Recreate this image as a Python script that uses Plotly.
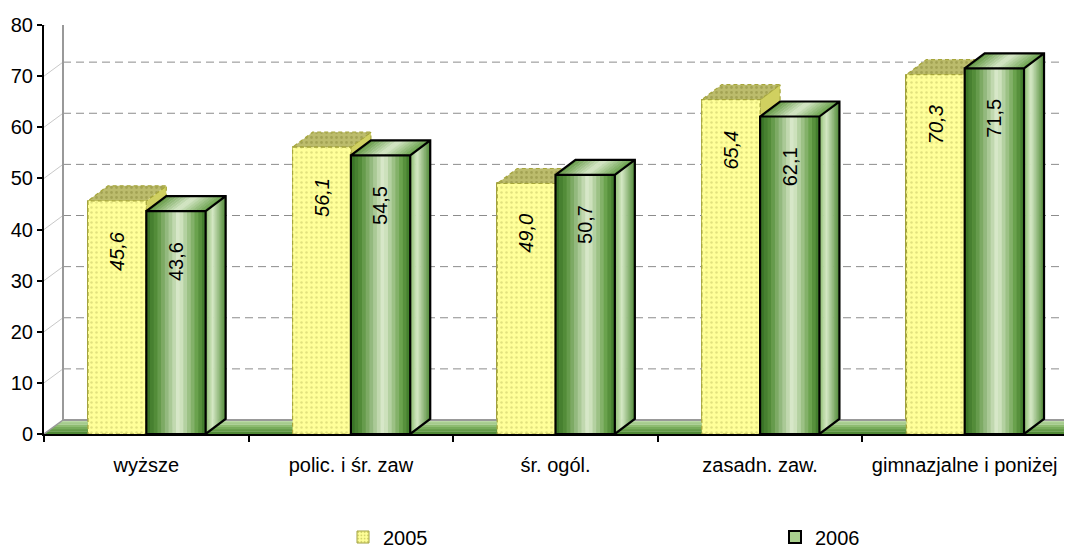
import plotly.graph_objects as go

# ---------------- data ----------------
categories = ["wyższe", "polic. i śr. zaw", "śr. ogól.", "zasadn. zaw.", "gimnazjalne i poniżej"]
series_names = ["2005", "2006"]
values_2005 = [45.6, 56.1, 49.0, 65.4, 70.3]
values_2006 = [43.6, 54.5, 50.7, 62.1, 71.5]
y_ticks = [0, 10, 20, 30, 40, 50, 60, 70, 80]

# ---------------- geometry / style ----------------
# the page body adds an 8px offset, so the figure is sized/positioned to compensate
OFF = 8
W, H = 1072 - OFF, 551 - OFF
ML, MT = 44 - OFF, 25 - OFF
PLOT_W, PLOT_H = 1023, 409
MR = W - ML - PLOT_W
MB = H - MT - PLOT_H
NCAT = len(categories)
YMAX = 80
PX_X = PLOT_W / NCAT
PX_Y = PLOT_H / YMAX
BAR_DX, BAR_DY = 20 / PX_X, 15 / PX_Y
WALL_DX, WALL_DY = 19 / PX_X, 14 / PX_Y
W05, W06 = 0.285, 0.29
EPS = 0.6 / PX_X
FONT = "Liberation Sans, Arial, sans-serif"
FS = 20


def lerp_color(stops, t):
    for (t0, c0), (t1, c1) in zip(stops[:-1], stops[1:]):
        if t0 <= t <= t1:
            f = 0 if t1 == t0 else (t - t0) / (t1 - t0)
            c = [round(a + (b - a) * f) for a, b in zip(c0, c1)]
            return f"rgb({c[0]},{c[1]},{c[2]})"
    c = stops[-1][1]
    return f"rgb({c[0]},{c[1]},{c[2]})"


FRONT_STOPS = [(0, (52, 110, 34)), (0.18, (88, 145, 60)), (0.55, (222, 236, 208)),
               (0.85, (104, 160, 74)), (1, (58, 118, 38))]
TOP_STOPS = [(0, (95, 150, 65)), (0.5, (215, 232, 200)), (1, (100, 158, 70))]
SIDE_STOPS = [(0, (140, 188, 110)), (0.35, (212, 232, 196)), (1, (78, 136, 52))]
FLOOR_STOPS = [(0, (70, 130, 45)), (0.5, (130, 180, 100)), (1, (200, 226, 180))]


def poly_xy(polys):
    xs, ys = [], []
    for p in polys:
        for x, y in p:
            xs.append(x)
            ys.append(y)
        xs.append(p[0][0])
        ys.append(p[0][1])
        xs.append(None)
        ys.append(None)
    return xs, ys


def fill_trace(polys, color, line=None, pattern=None):
    xs, ys = poly_xy(polys)
    kw = dict(x=xs, y=ys, mode="lines", fill="toself", fillcolor=color,
              line=line or dict(width=0, color=color), hoverinfo="skip",
              showlegend=False, cliponaxis=False)
    if pattern:
        kw["fillpattern"] = pattern
    return go.Scatter(**kw)


def line_trace(xs, ys, color, width=1, dash="solid"):
    return go.Scatter(x=xs, y=ys, mode="lines", line=dict(color=color, width=width, dash=dash),
                      hoverinfo="skip", showlegend=False, cliponaxis=False)


fig = go.Figure()
xpos = list(range(NCAT))

# legend proxies (hidden under the front faces)
fig.add_trace(go.Bar(x=xpos, y=values_2005, offset=-W05, width=W05, name=series_names[0], legend="legend",
                     marker=dict(color="#ffff99",
                                 pattern=dict(shape=".", fgcolor="#a8a840", bgcolor="#ffff99", size=4, solidity=0.3),
                                 line=dict(color="#a0a040", width=1)), hoverinfo="skip"))
fig.add_trace(go.Bar(x=xpos, y=values_2006, offset=0, width=W06, name=series_names[1], legend="legend2",
                     marker=dict(color="#a9d08e", line=dict(color="black", width=2)), hoverinfo="skip"))

# floor (gradient strips)
XL, XR = -0.5, NCAT - 0.5 + 0.3
NF = 6
for k in range(NF):
    t0, t1 = k / NF, (k + 1) / NF
    t1e = min(1, t1 + 0.02)
    poly = [(XL + WALL_DX * t0, WALL_DY * t0), (XR, WALL_DY * t0),
            (XR, WALL_DY * t1e), (XL + WALL_DX * t1e, WALL_DY * t1e)]
    fig.add_trace(fill_trace([poly], lerp_color(FLOOR_STOPS, (t0 + t1) / 2)))

# back wall grid lines
gx, gy = [], []
dxs, dys = [], []
for v in y_ticks[1:-1]:
    gx += [XL + WALL_DX, XR + 0.2, None]
    gy += [v + WALL_DY, v + WALL_DY, None]
    dxs += [XL, XL + WALL_DX, None]
    dys += [v, v + WALL_DY, None]
fig.add_trace(line_trace(dxs, dys, "#c8c8c8", 1))
fig.add_trace(line_trace(gx, gy, "#8c8c8c", 1, "8px,5px"))
# wall frame
fig.add_trace(line_trace([XL, XL + WALL_DX, XL + WALL_DX, XR + 0.2], [YMAX, YMAX + WALL_DY, WALL_DY, WALL_DY],
                         "#999999", 2))
fig.add_trace(line_trace([XL + WALL_DX, XR + 0.2], [YMAX + WALL_DY, YMAX + WALL_DY], "#999999", 2))
fig.add_trace(line_trace([XL, XL + WALL_DX], [0, WALL_DY], "#999999", 1.5))

# ---- 2005 bars ----
side05 = [[(i, 0), (i, v), (i + BAR_DX, v + BAR_DY), (i + BAR_DX, BAR_DY)] for i, v in zip(xpos, values_2005)]
top05 = [[(i - W05, v), (i, v), (i + BAR_DX, v + BAR_DY), (i - W05 + BAR_DX, v + BAR_DY)]
         for i, v in zip(xpos, values_2005)]
front05 = [[(i - W05, 0), (i, 0), (i, v), (i - W05, v)] for i, v in zip(xpos, values_2005)]
dash05 = dict(color="#a6a63c", width=1.2, dash="4px,3px")
fig.add_trace(fill_trace(side05, "#d0d060", line=dash05))
fig.add_trace(fill_trace(top05, "#bcbc6c", line=dash05,
                         pattern=dict(shape=".", fgcolor="#8a8a3a", bgcolor="#bcbc6c", size=5, solidity=0.25)))
fig.add_trace(fill_trace(front05, "#ffff99", line=dash05,
                         pattern=dict(shape=".", fgcolor="#c4c464", bgcolor="#ffff99", size=5, solidity=0.2)))

# ---- 2006 bars ----
NS = 16
for k in range(NS):
    t0, t1 = k / NS, (k + 1) / NS
    polys = []
    for i, v in zip(xpos, values_2006):
        x0 = i + W06
        polys.append([(x0 + BAR_DX * t0, BAR_DY * t0), (x0 + BAR_DX * t1 + EPS, BAR_DY * t1),
                      (x0 + BAR_DX * t1 + EPS, v + BAR_DY * t1), (x0 + BAR_DX * t0, v + BAR_DY * t0)])
    fig.add_trace(fill_trace(polys, lerp_color(SIDE_STOPS, (t0 + t1) / 2)))
for k in range(NS):
    t0, t1 = k / NS, (k + 1) / NS
    polys = []
    for i, v in zip(xpos, values_2006):
        a0, a1 = i + W06 * t0, i + W06 * t1 + EPS
        polys.append([(a0, v), (a1, v), (a1 + BAR_DX, v + BAR_DY), (a0 + BAR_DX, v + BAR_DY)])
    fig.add_trace(fill_trace(polys, lerp_color(TOP_STOPS, (t0 + t1) / 2)))
for k in range(NS):
    t0, t1 = k / NS, (k + 1) / NS
    polys = []
    for i, v in zip(xpos, values_2006):
        a0, a1 = i + W06 * t0, i + W06 * t1 + EPS
        polys.append([(a0, 0), (a1, 0), (a1, v), (a0, v)])
    fig.add_trace(fill_trace(polys, lerp_color(FRONT_STOPS, (t0 + t1) / 2)))

# 2006 outlines
ox, oy = [], []
for i, v in zip(xpos, values_2006):
    x0, x1 = i, i + W06
    pts = [(x1, 0), (x0, 0), (x0, v), (x1, v), (x1, 0), (x1 + BAR_DX, BAR_DY),
           (x1 + BAR_DX, v + BAR_DY), (x0 + BAR_DX, v + BAR_DY), (x0, v)]
    for x, y in pts:
        ox.append(x)
        oy.append(y)
    ox += [x1, x1 + BAR_DX, None]
    oy += [v, v + BAR_DY, None]
fig.add_trace(go.Scatter(x=ox, y=oy, mode="lines", line=dict(color="black", width=2.2),
                         hoverinfo="skip", showlegend=False, cliponaxis=False))

# data labels
annotations = []
for i, v in zip(xpos, values_2005):
    annotations.append(dict(x=i - W05 / 2, y=v, yshift=-50, text="<i>" + f"{v:.1f}".replace(".", ",") + "</i>",
                            textangle=-90, showarrow=False, xanchor="center", yanchor="middle",
                            font=dict(family=FONT, size=FS, color="black")))
for i, v in zip(xpos, values_2006):
    annotations.append(dict(x=i + W06 / 2, y=v, yshift=-50, text=f"{v:.1f}".replace(".", ","),
                            textangle=-90, showarrow=False, xanchor="center", yanchor="middle",
                            font=dict(family=FONT, size=FS, color="black")))

LEG_Y = -((537 - OFF) - (H - MB)) / PLOT_H
fig.update_layout(
    width=W, height=H,
    margin=dict(l=ML, r=MR, t=MT, b=MB, pad=0, autoexpand=False),
    paper_bgcolor="white", plot_bgcolor="white",
    barmode="overlay", bargap=0,
    font=dict(family=FONT, size=FS, color="black"),
    annotations=annotations,
    showlegend=True,
    legend=dict(orientation="h", x=(343 - 44) / PLOT_W, xanchor="left", y=LEG_Y, yanchor="middle",
                font=dict(family=FONT, size=FS), bgcolor="rgba(0,0,0,0)"),
    legend2=dict(orientation="h", x=(775 - 44) / PLOT_W, xanchor="left", y=LEG_Y, yanchor="middle",
                 font=dict(family=FONT, size=FS), bgcolor="rgba(0,0,0,0)"),
    xaxis=dict(range=[-0.5, NCAT - 0.5], tickmode="array", tickvals=xpos, ticktext=categories,
               ticks="outside", ticklen=12, tickcolor="rgba(0,0,0,0)", automargin=False,
               showline=True, linecolor="black", linewidth=2, showgrid=False, zeroline=False,
               tickfont=dict(family=FONT, size=FS),
               minor=dict(tickmode="array", tickvals=[k - 0.5 for k in range(NCAT + 1)],
                          ticks="outside", ticklen=6, tickwidth=2, tickcolor="black", showgrid=False),
               fixedrange=True),
    yaxis=dict(range=[0, YMAX], tickmode="array", tickvals=y_ticks, ticks="outside", ticklen=5,
               tickwidth=2, tickcolor="black", showline=True, linecolor="black", linewidth=2,
               automargin=False, showgrid=False, zeroline=False, tickfont=dict(family=FONT, size=FS),
               fixedrange=True),
)

fig.write_html("out.html")
